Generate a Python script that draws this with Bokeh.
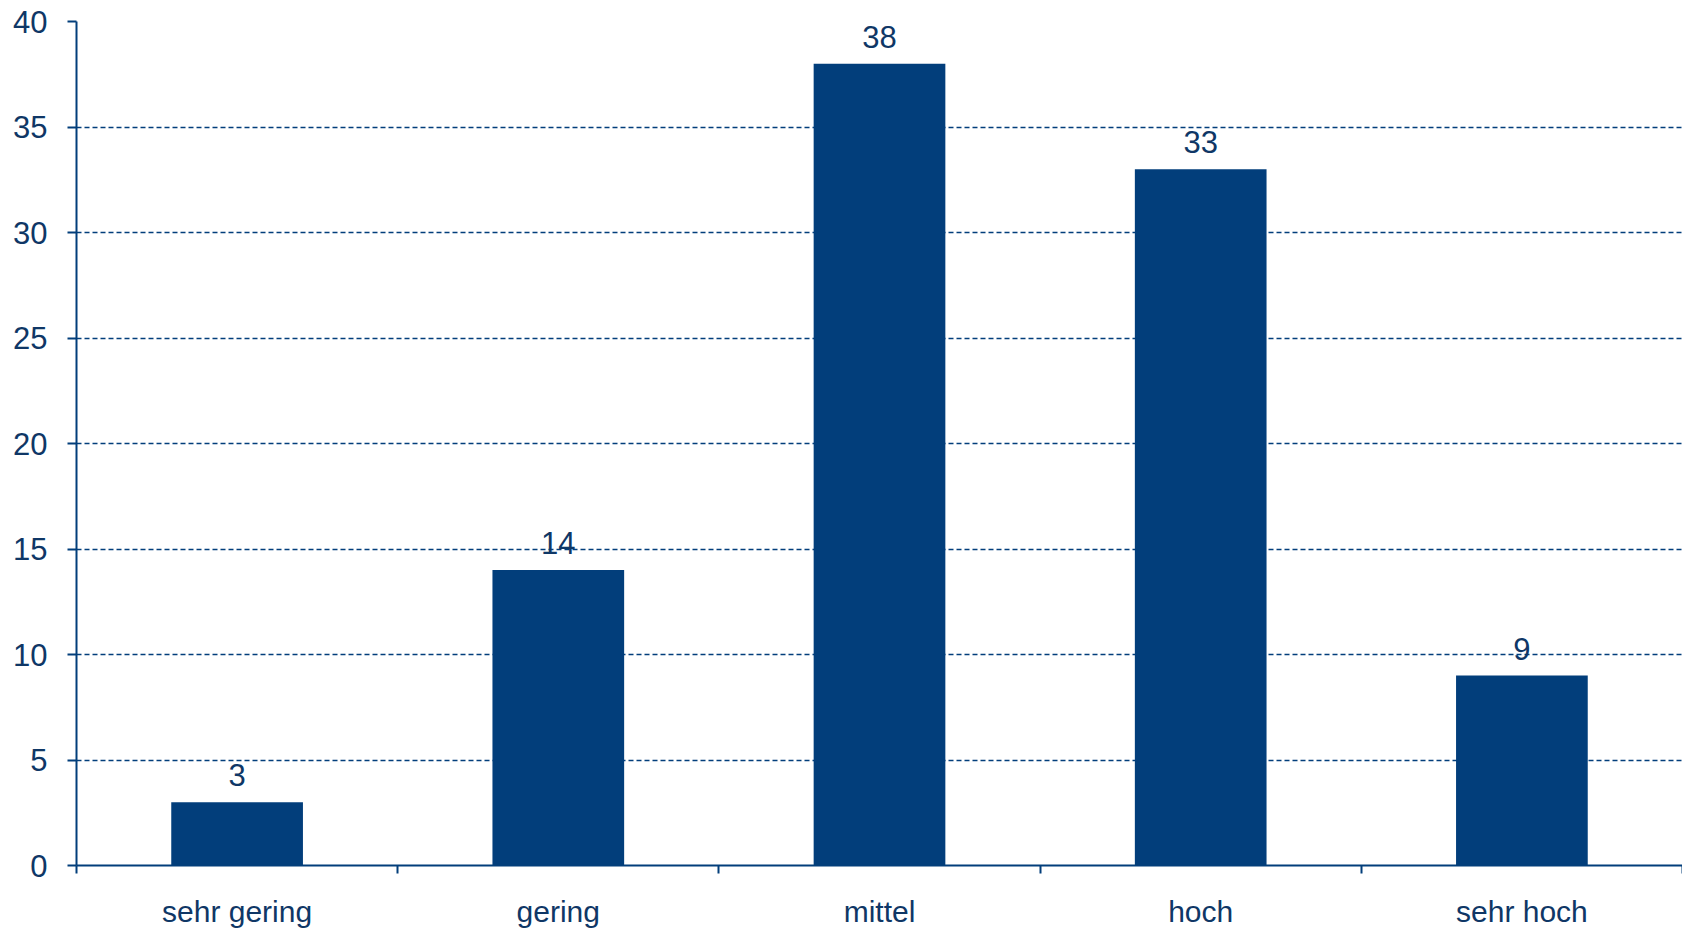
from bokeh.plotting import figure
from bokeh.models import ColumnDataSource, FixedTicker, Range1d, LabelSet
from bokeh.core.properties import value
from bokeh.embed import file_html
from bokeh.resources import INLINE

categories = ["sehr gering", "gering", "mittel", "hoch", "sehr hoch"]
values = [3, 14, 38, 33, 9]
y_ticks = [0, 5, 10, 15, 20, 25, 30, 35, 40]

BAR = "#023E7B"
TXT = "#0F3766"
FONT = "Liberation Sans"

xpos = [i + 0.5 for i in range(len(categories))]
src = ColumnDataSource(dict(x=xpos, top=values, label=[str(v) for v in values]))

p = figure(width=1682, height=930, output_backend="svg", toolbar_location=None,
           x_range=Range1d(0, len(categories)), y_range=Range1d(0, 40),
           min_border_left=76, min_border_right=0, min_border_top=21, min_border_bottom=63)
p.outline_line_color = None
p.background_fill_color = "white"

p.vbar(x="x", top="top", width=0.41, bottom=0, source=src, fill_color=BAR, line_color=None)

labels = LabelSet(x="x", y="top", text="label", source=src, text_align="center",
                  text_baseline="alphabetic", y_offset=16, text_font=value(FONT),
                  text_font_size=value("31px"), text_color=value(TXT))
p.add_layout(labels)

# x axis
p.xaxis.ticker = FixedTicker(ticks=xpos, minor_ticks=list(range(len(categories) + 1)))
p.xaxis.major_label_overrides = {x: c for x, c in zip(xpos, categories)}
p.xaxis.major_tick_out = 0
p.xaxis.major_tick_in = 0
p.xaxis.minor_tick_out = 8
p.xaxis.minor_tick_in = 0
p.xaxis.minor_tick_line_color = BAR
p.xaxis.minor_tick_line_width = 2
p.xaxis.axis_line_color = BAR
p.xaxis.axis_line_width = 2
p.xaxis.major_label_text_font = FONT
p.xaxis.major_label_text_font_size = "30px"
p.xaxis.major_label_text_color = TXT
p.xaxis.major_label_standoff = 21

# y axis
p.yaxis.ticker = FixedTicker(ticks=y_ticks)
p.yaxis.minor_tick_line_color = None
p.yaxis.major_tick_out = 9
p.yaxis.major_tick_in = 0
p.yaxis.major_tick_line_color = BAR
p.yaxis.major_tick_line_width = 2
p.yaxis.axis_line_color = BAR
p.yaxis.axis_line_width = 2
p.yaxis.major_label_text_font = FONT
p.yaxis.major_label_text_font_size = "31px"
p.yaxis.major_label_text_color = TXT
p.yaxis.major_label_standoff = 20

p.xgrid.grid_line_color = None
p.ygrid.ticker = FixedTicker(ticks=y_ticks[1:])
p.ygrid.grid_line_color = BAR
p.ygrid.grid_line_width = 1.5
p.ygrid.grid_line_dash = "5 3"

open("out.html", "w").write(file_html(p, INLINE))
